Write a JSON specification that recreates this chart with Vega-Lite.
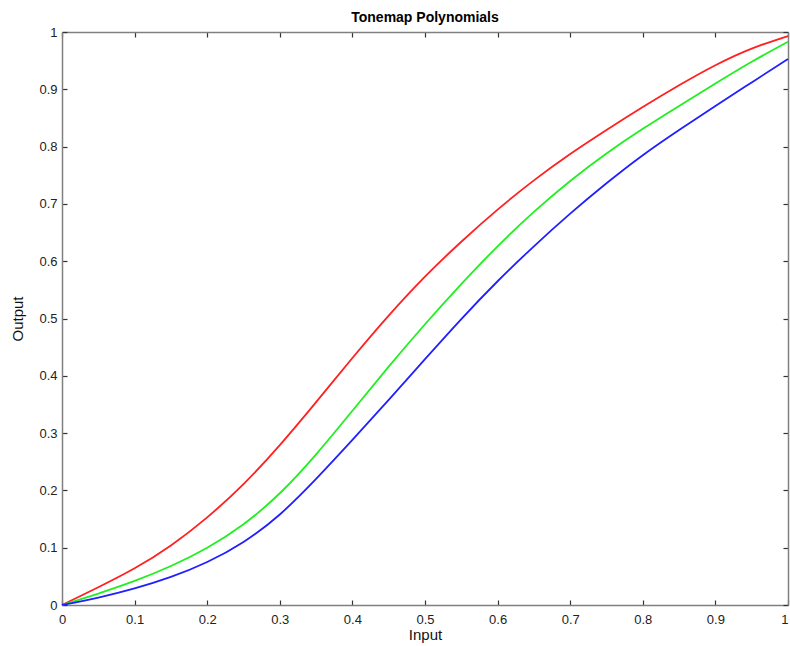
{
  "$schema": "https://vega.github.io/schema/vega-lite/v6.json",
  "width": 726,
  "height": 573,
  "autosize": "none",
  "padding": {"left": 62, "top": 32, "right": 2, "bottom": 41},
  "background": "white",
  "title": {
    "text": "Tonemap Polynomials",
    "font": "Liberation Sans",
    "fontSize": 14,
    "fontWeight": "bold",
    "color": "#000000",
    "anchor": "middle",
    "offset": 1
  },
  "config": {
    "view": {"stroke": null},
    "axis": {
      "labelFont": "Liberation Sans",
      "labelFontSize": 13,
      "labelColor": "#222222",
      "titleFont": "Liberation Sans",
      "titleFontSize": 15,
      "titleFontWeight": "normal",
      "titleColor": "#111111",
      "domainColor": "#808080",
      "domainWidth": 1.5,
      "tickColor": "#333333",
      "tickWidth": 1.2,
      "tickSize": -5,
      "grid": false,
      "format": "~g"
    }
  },
  "data": {
    "values": [
      {"input": 0.00, "output": 0.000, "curve": "Red"},
      {"input": 0.05, "output": 0.031, "curve": "Red"},
      {"input": 0.10, "output": 0.064, "curve": "Red"},
      {"input": 0.15, "output": 0.104, "curve": "Red"},
      {"input": 0.20, "output": 0.153, "curve": "Red"},
      {"input": 0.25, "output": 0.211, "curve": "Red"},
      {"input": 0.30, "output": 0.279, "curve": "Red"},
      {"input": 0.35, "output": 0.354, "curve": "Red"},
      {"input": 0.40, "output": 0.431, "curve": "Red"},
      {"input": 0.45, "output": 0.505, "curve": "Red"},
      {"input": 0.50, "output": 0.573, "curve": "Red"},
      {"input": 0.55, "output": 0.634, "curve": "Red"},
      {"input": 0.60, "output": 0.690, "curve": "Red"},
      {"input": 0.65, "output": 0.741, "curve": "Red"},
      {"input": 0.70, "output": 0.787, "curve": "Red"},
      {"input": 0.75, "output": 0.829, "curve": "Red"},
      {"input": 0.80, "output": 0.869, "curve": "Red"},
      {"input": 0.85, "output": 0.907, "curve": "Red"},
      {"input": 0.90, "output": 0.942, "curve": "Red"},
      {"input": 0.95, "output": 0.971, "curve": "Red"},
      {"input": 1.00, "output": 0.993, "curve": "Red"},
      {"input": 0.00, "output": 0.000, "curve": "Green"},
      {"input": 0.05, "output": 0.020, "curve": "Green"},
      {"input": 0.10, "output": 0.042, "curve": "Green"},
      {"input": 0.15, "output": 0.068, "curve": "Green"},
      {"input": 0.20, "output": 0.100, "curve": "Green"},
      {"input": 0.25, "output": 0.141, "curve": "Green"},
      {"input": 0.30, "output": 0.195, "curve": "Green"},
      {"input": 0.35, "output": 0.263, "curve": "Green"},
      {"input": 0.40, "output": 0.339, "curve": "Green"},
      {"input": 0.45, "output": 0.416, "curve": "Green"},
      {"input": 0.50, "output": 0.490, "curve": "Green"},
      {"input": 0.55, "output": 0.560, "curve": "Green"},
      {"input": 0.60, "output": 0.626, "curve": "Green"},
      {"input": 0.65, "output": 0.686, "curve": "Green"},
      {"input": 0.70, "output": 0.740, "curve": "Green"},
      {"input": 0.75, "output": 0.788, "curve": "Green"},
      {"input": 0.80, "output": 0.831, "curve": "Green"},
      {"input": 0.85, "output": 0.871, "curve": "Green"},
      {"input": 0.90, "output": 0.910, "curve": "Green"},
      {"input": 0.95, "output": 0.948, "curve": "Green"},
      {"input": 1.00, "output": 0.983, "curve": "Green"},
      {"input": 0.00, "output": 0.000, "curve": "Blue"},
      {"input": 0.05, "output": 0.013, "curve": "Blue"},
      {"input": 0.10, "output": 0.029, "curve": "Blue"},
      {"input": 0.15, "output": 0.049, "curve": "Blue"},
      {"input": 0.20, "output": 0.075, "curve": "Blue"},
      {"input": 0.25, "output": 0.110, "curve": "Blue"},
      {"input": 0.30, "output": 0.158, "curve": "Blue"},
      {"input": 0.35, "output": 0.220, "curve": "Blue"},
      {"input": 0.40, "output": 0.288, "curve": "Blue"},
      {"input": 0.45, "output": 0.358, "curve": "Blue"},
      {"input": 0.50, "output": 0.429, "curve": "Blue"},
      {"input": 0.55, "output": 0.499, "curve": "Blue"},
      {"input": 0.60, "output": 0.565, "curve": "Blue"},
      {"input": 0.65, "output": 0.626, "curve": "Blue"},
      {"input": 0.70, "output": 0.683, "curve": "Blue"},
      {"input": 0.75, "output": 0.736, "curve": "Blue"},
      {"input": 0.80, "output": 0.785, "curve": "Blue"},
      {"input": 0.85, "output": 0.829, "curve": "Blue"},
      {"input": 0.90, "output": 0.871, "curve": "Blue"},
      {"input": 0.95, "output": 0.912, "curve": "Blue"},
      {"input": 1.00, "output": 0.953, "curve": "Blue"}
    ]
  },
  "layer": [
    {
      "mark": {"type": "line", "opacity": 0},
      "encoding": {
        "x": {
          "field": "input", "type": "quantitative",
          "scale": {"domain": [0, 1], "nice": false, "zero": false},
          "axis": {"orient": "top", "labels": false, "title": null, "values": [0, 0.1, 0.2, 0.3, 0.4, 0.5, 0.6, 0.7, 0.8, 0.9, 1]}
        },
        "y": {
          "field": "output", "type": "quantitative",
          "scale": {"domain": [0, 1], "nice": false, "zero": false},
          "axis": {"orient": "right", "labels": false, "title": null, "values": [0, 0.1, 0.2, 0.3, 0.4, 0.5, 0.6, 0.7, 0.8, 0.9, 1]}
        },
        "detail": {"field": "curve"}
      }
    },
    {
      "mark": {"type": "line", "strokeWidth": 1.8, "interpolate": "natural"},
      "encoding": {
        "x": {
          "field": "input", "type": "quantitative",
          "scale": {"domain": [0, 1], "nice": false, "zero": false},
          "axis": {
            "orient": "bottom", "title": "Input", "titlePadding": 1, "labelPadding": 13, "labelFlush": false,
            "labelAlign": {"condition": {"test": "datum.value == 1", "value": "right"}, "value": "center"},
            "values": [0, 0.1, 0.2, 0.3, 0.4, 0.5, 0.6, 0.7, 0.8, 0.9, 1]
          }
        },
        "y": {
          "field": "output", "type": "quantitative",
          "scale": {"domain": [0, 1], "nice": false, "zero": false},
          "axis": {"orient": "left", "title": "Output", "titlePadding": 13, "labelPadding": 10, "labelFlush": false, "values": [0, 0.1, 0.2, 0.3, 0.4, 0.5, 0.6, 0.7, 0.8, 0.9, 1]}
        },
        "color": {
          "field": "curve", "type": "nominal",
          "scale": {"domain": ["Red", "Green", "Blue"], "range": ["#ff2020", "#20f020", "#2020ff"]},
          "legend": null
        }
      }
    }
  ],
  "resolve": {"axis": {"x": "independent", "y": "independent"}}
}
